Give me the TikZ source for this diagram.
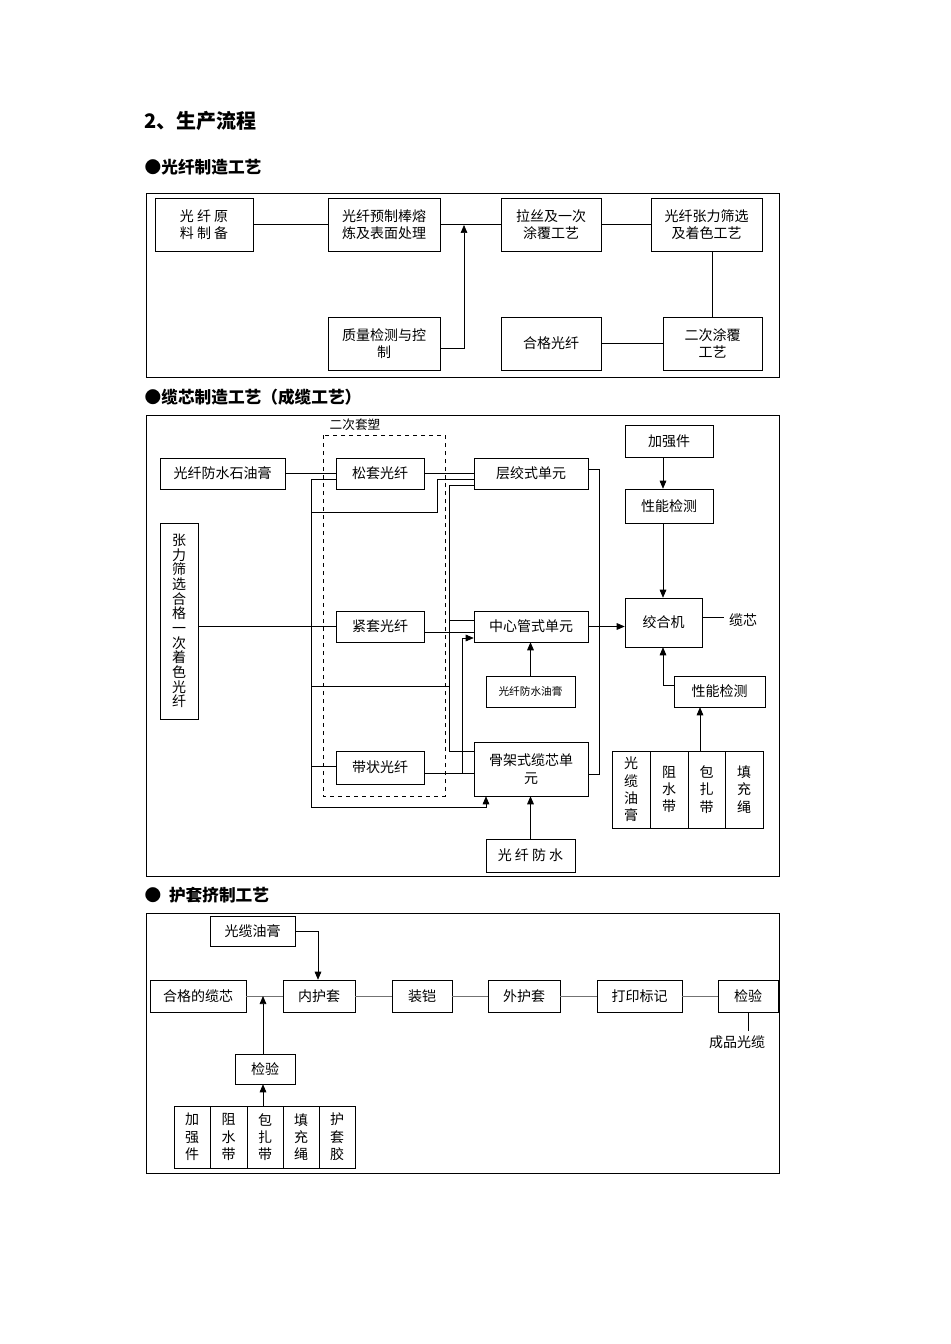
\documentclass[tikz,border=0pt]{standalone}
\usepackage{fontspec}
\setmainfont{Noto Sans CJK SC}
\usetikzlibrary{arrows.meta}
\newcommand{\bx}[6]{\node[box,minimum width={(#4-#2)*0.75pt},minimum height={(#5-#3)*0.75pt}] (#1) at ({(#2+#4)/2},{(#3+#5)/2}) {#6};}
\begin{document}
\begin{tikzpicture}[x=0.75pt,y=-0.75pt,
  box/.style={draw,rectangle,inner sep=1pt,align=center,font=\fontsize{10.5}{13}\selectfont},
  vbox/.style={box,font=\fontsize{10.5}{11}\selectfont},
  frame/.style={draw,line width=0.6pt},
  ln/.style={line width=0.5pt},
  arr/.style={ln,-{Triangle[length=6pt,width=5pt]}},
  gl/.style={ln,draw=black!55},
  hd/.style={anchor=west,font=\fontsize{12.5}{14}\selectfont\bfseries}]
\useasboundingbox (0,0) rectangle (950,1344);
\node[hd,font=\fontsize{15}{17}\selectfont\bfseries] (t0) at (140,121) {2、生产流程};
\node[hd] (t1) at (140,167) {●光纤制造工艺};
\node[hd] (t2) at (140,397) {●缆芯制造工艺（成缆工艺）};
\node[hd] (t3) at (140,895) {●\ \ 护套挤制工艺};
% section 1
\draw[frame] (146,193) rectangle (779,377);
\bx{A}{155}{198}{253}{251}{光 纤 原\\料 制 备}
\bx{B}{328}{198}{440}{251}{光纤预制棒熔\\炼及表面处理}
\bx{C}{501}{198}{601}{251}{拉丝及一次\\涂覆工艺}
\bx{D}{651}{198}{762}{251}{光纤张力筛选\\及着色工艺}
\bx{E}{328}{317}{440}{370}{质量检测与控\\制}
\bx{F}{501}{317}{601}{370}{合格光纤}
\bx{G}{663}{317}{762}{370}{二次涂覆\\工艺}
\coordinate (m1) at (464,225);
\draw[ln] (A) -- (B); \draw[ln] (B) -- (C); \draw[ln] (C) -- (D);
\draw[ln] (G.north) -- (G.north|-D.south);
\draw[ln] (G) -- (F);
\draw[arr] (E.east|-0,348) -| (m1);
% section 2
\draw[frame] (146,415) rectangle (779,876);
\node[font=\fontsize{9.5}{11}\selectfont] (ec) at (355,425) {二次套塑};
\draw[ln,dashed] (323,435) rectangle (445,796);
\bx{SY}{160}{458}{285}{489}{光纤防水石油膏}
\bx{ST}{336}{458}{424}{489}{松套光纤}
\bx{CJ}{474}{458}{588}{489}{层绞式单元}
\bx{ZL}{160}{523}{198}{719}{}
\node[vbox,draw=none] (ZLt) at (ZL) {张\\力\\筛\\选\\合\\格\\一\\次\\着\\色\\光\\纤};
\bx{JT}{336}{611}{424}{642}{紧套光纤}
\bx{ZX}{474}{611}{588}{642}{中心管式单元}
\bx{YG}{486}{676}{575}{707}{\fontsize{8}{9}\selectfont 光纤防水油膏}
\bx{GJ}{474}{742}{588}{796}{骨架式缆芯单\\元}
\bx{DZ}{336}{751}{424}{784}{带状光纤}
\bx{FS}{486}{839}{575}{872}{光 纤 防 水}
\bx{JQ}{625}{425}{713}{457}{加强件}
\bx{XN}{625}{489}{713}{523}{性能检测}
\bx{JH}{625}{598}{702}{647}{绞合机}
\bx{XN2}{674}{676}{765}{707}{性能检测}
\bx{M1}{612}{751}{650}{828}{光\\缆\\油\\膏}
\bx{M2}{650}{751}{688}{828}{阻\\水\\带}
\bx{M3}{688}{751}{725}{828}{包\\扎\\带}
\bx{M4}{725}{751}{763}{828}{填\\充\\绳}
\node[font=\fontsize{10.5}{13}\selectfont] (LX) at (743,620) {缆芯};
\draw[ln] (SY) -- (ST);
\draw[ln] (ZL.east|-JT) -- (JT.west);
\draw[ln] (ST.east|-0,473) -- (CJ.west|-0,473);
\draw[arr] (ST.west|-0,479) -- (311,479) -- (311,807) -- (486,807) -- (GJ.south-|486,0);
\draw[ln] (311,512) -- (437,512) -- (437,479) -- (CJ.west|-0,479);
\draw[ln] (311,686) -- (449,686);
\draw[ln] (311,766) -- (DZ.west|-0,766);
\draw[ln] (CJ.west|-0,485) -- (449,485) -- (449,751) -- (GJ.west|-0,751);
\draw[ln] (449,620) -- (ZX.west|-0,620);
\draw[ln] (JT.east|-0,632) -- (ZX.west|-0,632);
\draw[ln] (DZ.east|-0,773) -- (GJ.west|-0,773);
\draw[arr] (462,773) -- (462,638) -- (ZX.west|-0,638);
\draw[arr] (YG.north) -- (YG.north|-ZX.south);
\draw[arr] (FS.north) -- (FS.north|-GJ.south);
\draw[ln] (CJ.east|-0,469) -- (599,469) -- (599,774) -- (GJ.east|-0,774);
\draw[arr] (ZX.east) -- (JH.west|-ZX.east);
\draw[arr] (JQ.south-|663,0) -- (XN.north-|663,0);
\draw[arr] (XN.south-|663,0) -- (JH.north-|663,0);
\draw[arr] (XN2.west|-0,685) -- (663,685) -- (JH.south-|663,0);
\draw[arr] (M3.north-|700,0) -- (XN2.south-|700,0);
\draw[ln] (JH.east|-0,617) -- (LX.west|-0,617);
% section 3
\draw[frame] (146,913) rectangle (779,1173);
\bx{GY}{210}{916}{295}{946}{光缆油膏}
\bx{HG}{150}{980}{246}{1012}{合格的缆芯}
\bx{NH}{283}{980}{355}{1012}{内护套}
\bx{ZK}{392}{980}{452}{1012}{装铠}
\bx{WH}{488}{980}{560}{1012}{外护套}
\bx{DY}{597}{980}{682}{1012}{打印标记}
\bx{JY}{718}{980}{778}{1012}{检验}
\bx{JY2}{235}{1054}{295}{1084}{检验}
\bx{N1}{174}{1106}{210}{1168}{加\\强\\件}
\bx{N2}{210}{1106}{247}{1168}{阻\\水\\带}
\bx{N3}{247}{1106}{283}{1168}{包\\扎\\带}
\bx{N4}{283}{1106}{319}{1168}{填\\充\\绳}
\bx{N5}{319}{1106}{355}{1168}{护\\套\\胶}
\node[font=\fontsize{10.5}{13}\selectfont] (CP) at (737,1042) {成品光缆};
\draw[gl] (HG) -- (NH); \draw[gl] (NH) -- (ZK); \draw[gl] (ZK) -- (WH);
\draw[gl] (WH) -- (DY); \draw[gl] (DY) -- (JY);
\draw[ln] (JY.south-|748,0) -- (CP.north-|748,0);
\draw[arr] (GY.east) -- (318,931) -- (NH.north-|318,0);
\draw[arr] (JY2.north-|263,0) -- (263,996);
\draw[arr] (N3.north-|263,0) -- (JY2.south-|263,0);
\end{tikzpicture}
\end{document}
